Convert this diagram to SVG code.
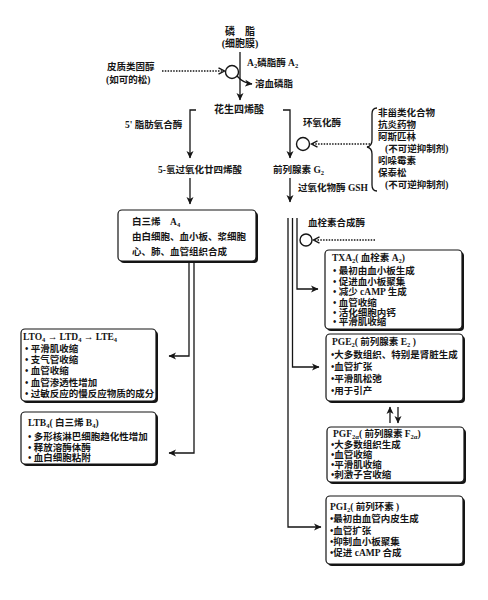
<svg xmlns="http://www.w3.org/2000/svg" width="488" height="600" viewBox="0 0 488 600">
<style>
.t{font-family:"Liberation Serif","Noto Sans CJK SC",serif;font-weight:bold;font-size:9.5px;fill:#151515}
.l{font-size:10px}
.ln{fill:none;stroke:#151515;stroke-width:1.3}
.dot{fill:none;stroke:#151515;stroke-width:1.3;stroke-dasharray:1.5 1.3}
.bx{fill:#fff;stroke:#151515;stroke-width:1.2}
.sh{fill:#151515}
.c{fill:none;stroke:#151515;stroke-width:1.4}
</style>
<defs>
<marker id="ah" markerWidth="8" markerHeight="8" refX="7" refY="4" orient="auto" markerUnits="userSpaceOnUse">
<path d="M0,0.5 L7.5,4 L0,7.5 L2,4 z" fill="#151515"/>
</marker>
<marker id="ch" markerWidth="8" markerHeight="8" refX="6" refY="4" orient="auto" markerUnits="userSpaceOnUse">
<path d="M0.5,0.8 L6.5,4 L0.5,7.2" fill="none" stroke="#151515" stroke-width="1.4"/>
</marker>
</defs>

<g id="phospholipid">
<text class="t l" x="240" y="35" text-anchor="middle">磷　脂</text>
<text class="t l" x="240" y="47" text-anchor="middle">(细胞膜)</text>
</g>
<g id="corticosteroid">
<text class="t" x="107" y="70">皮质类固醇</text>
<text class="t" x="106" y="83">(如可的松)</text>
</g>
<g id="pla2">
<circle class="c" cx="232" cy="72" r="6.5"/>
<text class="t" x="247" y="66">A<tspan font-size="6.5" dy="2">2</tspan><tspan dy="-2">磷脂酶 A</tspan><tspan font-size="6.5" dy="2">2</tspan></text>
</g>
<g id="lysophospholipid">
<text class="t" x="255" y="87">溶血磷脂</text>
</g>
<g id="arachidonic">
<text class="t l" x="239" y="113" text-anchor="middle">花生四烯酸</text>
</g>
<g id="lipoxygenase">
<text class="t" x="125" y="128">5' 脂肪氧合酶</text>
</g>
<g id="cyclooxygenase">
<text class="t" x="303" y="126">环氧化酶</text>
<circle class="c" cx="303" cy="144" r="6.5"/>
</g>
<g id="nsaid">
<text class="t" x="378" y="116">非甾类化合物</text>
<text class="t" x="378" y="128">抗炎药物</text>
<line x1="378" y1="130.5" x2="414" y2="130.5" stroke="#151515" stroke-width="0.9"/>
<text class="t" x="378" y="140">阿斯匹林</text>
<text class="t" x="385" y="152">(不可逆抑制剂)</text>
<text class="t" x="378" y="164">吲哚霉素</text>
<text class="t" x="378" y="176">保泰松</text>
<text class="t" x="385" y="188">(不可逆抑制剂)</text>
</g>
<g id="hpete">
<text class="t" x="158" y="173">5-氢过氧化廿四烯酸</text>
</g>
<g id="pgg2">
<text class="t" x="273" y="173">前列腺素 G<tspan font-size="6.5" dy="2">2</tspan></text>
</g>
<g id="peroxidase">
<text class="t" x="298" y="191">过氧化物酶 GSH</text>
</g>
<g id="txsynthase">
<text class="t" x="308" y="226">血栓素合成酶</text>
<circle class="c" cx="306" cy="240" r="6"/>
</g>

<g id="lta4">
<rect class="sh" x="120" y="212" width="138" height="51" rx="4"/>
<rect class="bx" x="118" y="210" width="138" height="51" rx="4"/>
<text class="t" x="132" y="225">白三烯　A<tspan font-size="6.5" dy="2">4</tspan></text>
<text class="t" x="132" y="240">由白细胞、血小板、浆细胞</text>
<text class="t" x="132" y="255">心、肺、血管组织合成</text>
</g>

<g id="ltc4">
<rect class="sh" x="23" y="331" width="135" height="72" rx="4"/>
<rect class="bx" x="21" y="329" width="135" height="72" rx="4"/>
<text class="t" x="23" y="340">LTO<tspan font-size="6.5" dy="2">4</tspan><tspan dy="-2"> → LTD</tspan><tspan font-size="6.5" dy="2">4</tspan><tspan dy="-2"> → LTE</tspan><tspan font-size="6.5" dy="2">4</tspan></text>
<text class="t" x="25" y="352">• 平滑肌收缩</text>
<text class="t" x="25" y="363">• 支气管收缩</text>
<text class="t" x="25" y="374">• 血管收缩</text>
<text class="t" x="25" y="386">• 血管渗透性增加</text>
<text class="t" x="25" y="397">• 过敏反应的慢反应物质的成分</text>
</g>

<g id="ltb4">
<rect class="sh" x="23" y="414" width="135" height="52" rx="4"/>
<rect class="bx" x="21" y="412" width="135" height="52" rx="4"/>
<text class="t" x="28" y="426">LTB<tspan font-size="6.5" dy="2">4</tspan><tspan dy="-2">( 白三烯 B</tspan><tspan font-size="6.5" dy="2">4</tspan><tspan dy="-2">)</tspan></text>
<text class="t" x="28" y="440">• 多形核淋巴细胞趋化性增加</text>
<text class="t" x="28" y="451">• 释放溶酶体酶</text>
<text class="t" x="28" y="461">• 血白细胞粘附</text>
</g>

<g id="txa2">
<rect class="sh" x="327" y="252" width="137" height="79" rx="4"/>
<rect class="bx" x="325" y="250" width="137" height="79" rx="4"/>
<text class="t" x="332" y="261">TXA<tspan font-size="6.5" dy="2">2</tspan><tspan dy="-2">( 血栓素 A</tspan><tspan font-size="6.5" dy="2">2</tspan><tspan dy="-2">)</tspan></text>
<text class="t" x="333" y="274">• 最初由血小板生成</text>
<text class="t" x="333" y="285">• 促进血小板聚集</text>
<text class="t" x="333" y="295">• 减少 cAMP 生成</text>
<text class="t" x="333" y="306">• 血管收缩</text>
<text class="t" x="333" y="316">• 活化细胞内钙</text>
<text class="t" x="333" y="325">• 平滑肌收缩</text>
</g>

<g id="pge2">
<rect class="sh" x="328" y="336" width="137" height="67" rx="4"/>
<rect class="bx" x="326" y="334" width="137" height="67" rx="4"/>
<text class="t" x="332" y="345">PGE<tspan font-size="6.5" dy="2">2</tspan><tspan dy="-2">( 前列腺素 E</tspan><tspan font-size="6.5" dy="2">2</tspan><tspan dy="-2"> )</tspan></text>
<text class="t" x="331" y="358">•大多数组织、特别是肾脏生成</text>
<text class="t" x="331" y="370">•血管扩张</text>
<text class="t" x="331" y="382">•平滑肌松弛</text>
<text class="t" x="331" y="394">•用于引产</text>
</g>

<g id="pgf2a">
<rect class="sh" x="329" y="429" width="137" height="55" rx="4"/>
<rect class="bx" x="327" y="427" width="137" height="55" rx="4"/>
<text class="t" x="333" y="437">PGF<tspan font-size="6.5" dy="2">2α</tspan><tspan dy="-2">( 前列腺素 F</tspan><tspan font-size="6.5" dy="2">2α</tspan><tspan dy="-2">)</tspan></text>
<text class="t" x="331" y="448">•大多数组织生成</text>
<text class="t" x="331" y="458">•血管收缩</text>
<text class="t" x="331" y="468">•平滑肌收缩</text>
<text class="t" x="331" y="478">•刺激子宫收缩</text>
</g>

<g id="pgi2">
<rect class="sh" x="328" y="498" width="137" height="68" rx="4"/>
<rect class="bx" x="326" y="496" width="137" height="68" rx="4"/>
<text class="t" x="330" y="510">PGI<tspan font-size="6.5" dy="2">2</tspan><tspan dy="-2">( 前列环素 )</tspan></text>
<text class="t" x="330" y="522">•最初由血管内皮生成</text>
<text class="t" x="330" y="534">•血管扩张</text>
<text class="t" x="330" y="545">•抑制血小板聚集</text>
<text class="t" x="330" y="556">•促进 cAMP 合成</text>
</g>

<g id="connectors">
<path class="ln" d="M240,52 V100" marker-end="url(#ah)"/>
<path class="dot" d="M162,71 H224" marker-end="url(#ch)"/>
<path class="ln" d="M237,76 Q243,83 252,84" marker-end="url(#ah)"/>
<path class="ln" d="M196,110 H190 V158" marker-end="url(#ah)"/>
<path class="ln" d="M283,110 H290 V158" marker-end="url(#ah)"/>
<path class="dot" d="M370,144 H312" marker-end="url(#ch)"/>
<path class="ln" d="M377,108 Q372,108 372,114 V140 Q372,146 367,147 Q372,148 372,154 V185 Q372,191 377,191"/>
<path class="ln" d="M190,178 V204" marker-end="url(#ah)"/>
<path class="ln" d="M290,178 V202" marker-end="url(#ah)"/>
<path class="dot" d="M375,240 H314" marker-end="url(#ch)"/>
<path class="ln" d="M297,218 V289 H318" marker-end="url(#ah)"/>
<path class="ln" d="M292.5,218 V367 H319" marker-end="url(#ah)"/>
<path class="ln" d="M288,218 V527 H321" marker-end="url(#ah)"/>
<path class="ln" d="M189,263 V356 H169" marker-end="url(#ah)"/>
<path class="ln" d="M194,263 V453 H169" marker-end="url(#ah)"/>
<path class="ln" d="M390,423 V407" marker-end="url(#ah)"/>
<path class="ln" d="M398,407 V423" marker-end="url(#ah)"/>
</g>
</svg>
